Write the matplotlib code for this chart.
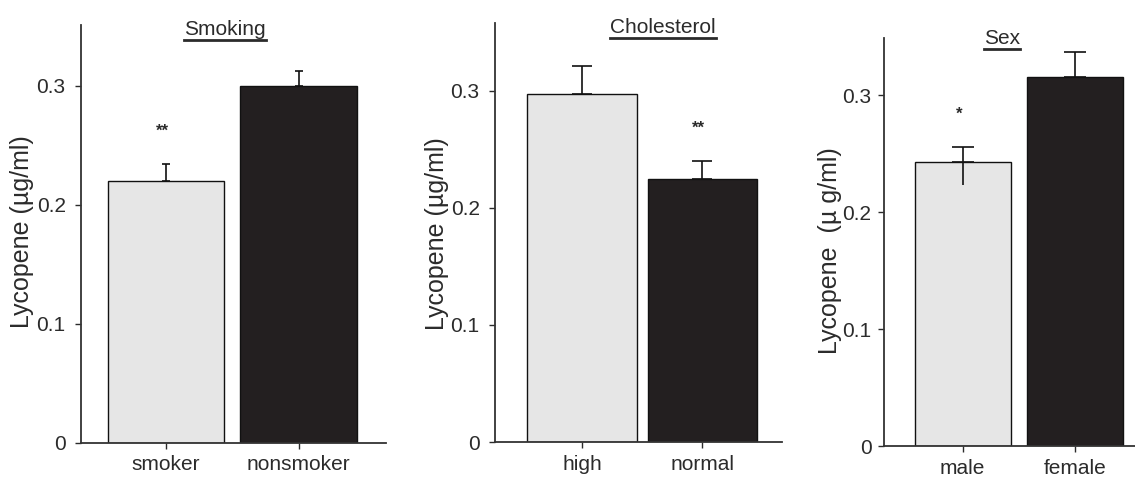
import matplotlib

matplotlib.use("Agg")

import matplotlib.pyplot as plt
from matplotlib.lines import Line2D

plt.rcParams["font.family"] = ["Liberation Sans Narrow", "Liberation Sans", "DejaVu Sans"]

# data
smoking_labels = ["smoker", "nonsmoker"]
smoking_means = [0.220, 0.300]
smoking_err_up = [0.014, 0.012]
smoking_err_low = [0.0, 0.0]
smoking_stars = ["**", ""]

chol_labels = ["high", "normal"]
chol_means = [0.297, 0.225]
chol_err_up = [0.024, 0.015]
chol_err_low = [0.0, 0.0]
chol_stars = ["", "**"]

sex_labels = ["male", "female"]
sex_means = [0.243, 0.316]
sex_err_up = [0.013, 0.021]
sex_err_low = [0.020, 0.0]
sex_stars = ["*", ""]

yticks = [0, 0.1, 0.2, 0.3]
ytick_labels = ["0", "0.1", "0.2", "0.3"]

W, H = 1135, 479
LIGHT = "#e6e6e6"
DARK = "#231f20"
TEXT = "#2b2b2b"

fig = plt.figure(figsize=(W / 100, H / 100), dpi=100)


def px_axes(left, right, top, bottom):
    return fig.add_axes([left / W, 1 - bottom / H, (right - left) / W, (bottom - top) / H])


panels = [
    # title, labels, means, up, low, stars, box(px), xlim, ytop, width, cap, title x/y,
    # ylabel, label x/y (px), tick pad
    ("Smoking", smoking_labels, smoking_means, smoking_err_up, smoking_err_low, smoking_stars,
     (81, 386, 25, 443), (-0.642, 1.66), 0.351, 0.88, 3, (0.472, 0.99),
     "Lycopene (µg/ml)", 22, 232, 7),
    ("Cholesterol", chol_labels, chol_means, chol_err_up, chol_err_low, chol_stars,
     (495, 782, 23, 442), (-0.722, 1.66), 0.358, 0.91, 7, (0.585, 0.99),
     "Lycopene (µg/ml)", 437, 234, 7),
    ("Sex", sex_labels, sex_means, sex_err_up, sex_err_low, sex_stars,
     (884, 1135, 38, 446), (-0.698, 1.53), 0.349, 0.85, 8, (0.47, 1.0),
     "Lycopene  (µ g/ml)", 830, 251, 5),
]

for (title, labels, means, up, low, stars, box, xlim, ytop, width, cap, tpos,
     ylabel, lx, ly, tpad) in panels:
    ax = px_axes(*box)
    x = list(range(len(labels)))
    ax.bar(x, means, width=width, color=[LIGHT, DARK], edgecolor="#111111",
           linewidth=1.0, zorder=2)
    ax.errorbar(x, means, yerr=[[0] * len(x), up], fmt="none", ecolor="#111111",
                elinewidth=1.2, capsize=cap, capthick=1.2, zorder=3)
    for xi, m, lo in zip(x, means, low):
        if lo > 0:
            ax.vlines(xi, m - lo, m, color="#111111", linewidth=1.2, zorder=3)
    for xi, m, u, s in zip(x, means, up, stars):
        if s:
            ax.text(xi - 0.03, m + u + 0.028, s, ha="center", va="center",
                    fontsize=12, fontweight="bold", color=TEXT)

    ax.set_xlim(*xlim)
    ax.set_ylim(0, ytop)
    ax.set_yticks(yticks)
    ax.set_yticklabels(ytick_labels)
    ax.set_xticks(x)
    ax.set_xticklabels(labels)
    ax.tick_params(axis="y", length=4, width=1.0, pad=tpad, labelsize=15, colors=TEXT)
    ax.tick_params(axis="x", length=4, width=1.0, pad=5, labelsize=15, colors=TEXT)
    for side in ("top", "right"):
        ax.spines[side].set_visible(False)
    for side in ("left", "bottom"):
        ax.spines[side].set_linewidth(1.3)
        ax.spines[side].set_color("#333333")
    ax.patch.set_alpha(0)

    t = ax.text(tpos[0], tpos[1], title, transform=ax.transAxes, ha="center", va="center",
                fontsize=15, color=TEXT)
    fig.canvas.draw()
    bb = t.get_window_extent().transformed(ax.transAxes.inverted())
    ax.add_line(Line2D([bb.x0, bb.x1], [bb.y0 - 0.004, bb.y0 - 0.004], transform=ax.transAxes,
                       color=TEXT, linewidth=2.0, clip_on=False))

    fig.text(lx / W, 1 - ly / H, ylabel, rotation=90, ha="center", va="center",
             fontsize=18, color=TEXT)

fig.savefig("out.png", dpi=100)
